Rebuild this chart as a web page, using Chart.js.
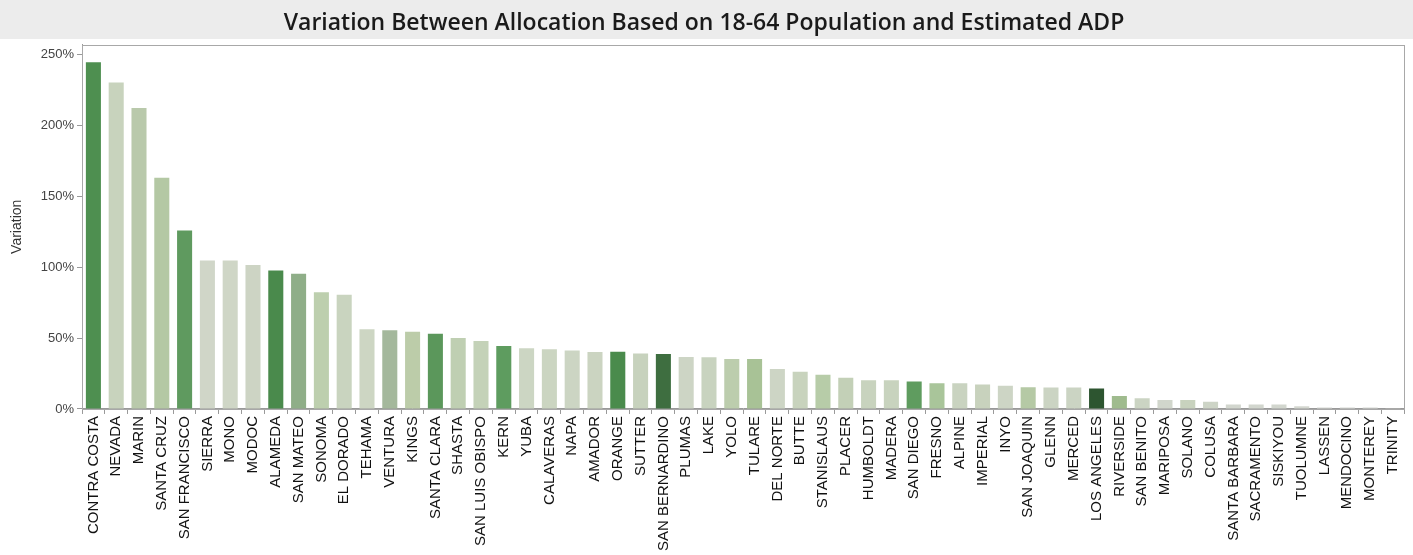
<!DOCTYPE html>
<html>
<head>
<meta charset="utf-8">
<script src="https://cdn.jsdelivr.net/npm/chart.js@4"></script>
<style>
    body { margin: 0; background: #fff; }
    .chart-wrap { width: 1413px; height: 555px; position: relative; }
</style>
</head>
<body>
<div class="chart-wrap"><canvas id="myChart"></canvas></div>
<script>
// counties, sorted by variation
const counties = [
    "CONTRA COSTA", "NEVADA", "MARIN", "SANTA CRUZ", "SAN FRANCISCO", "SIERRA",
    "MONO", "MODOC", "ALAMEDA", "SAN MATEO", "SONOMA", "EL DORADO", "TEHAMA",
    "VENTURA", "KINGS", "SANTA CLARA", "SHASTA", "SAN LUIS OBISPO", "KERN",
    "YUBA", "CALAVERAS", "NAPA", "AMADOR", "ORANGE", "SUTTER", "SAN BERNARDINO",
    "PLUMAS", "LAKE", "YOLO", "TULARE", "DEL NORTE", "BUTTE", "STANISLAUS",
    "PLACER", "HUMBOLDT", "MADERA", "SAN DIEGO", "FRESNO", "ALPINE", "IMPERIAL",
    "INYO", "SAN JOAQUIN", "GLENN", "MERCED", "LOS ANGELES", "RIVERSIDE",
    "SAN BENITO", "MARIPOSA", "SOLANO", "COLUSA", "SANTA BARBARA", "SACRAMENTO",
    "SISKIYOU", "TUOLUMNE", "LASSEN", "MENDOCINO", "MONTEREY", "TRINITY"
];

// variation in percent
const variation = [
    244.5, 230.2, 212.2, 163.0, 125.9, 104.7, 104.7, 101.6, 97.6, 95.4, 82.4,
    80.5, 56.3, 55.5, 54.4, 53.1, 50.1, 47.9, 44.4, 42.9, 42.2, 41.2, 40.1,
    40.3, 39.1, 38.7, 36.7, 36.5, 35.3, 35.3, 28.2, 26.2, 24.1, 22.0, 20.3,
    20.3, 19.4, 18.2, 18.2, 17.3, 16.3, 15.3, 15.1, 15.1, 14.4, 9.1, 7.5, 6.3,
    6.3, 5.1, 3.2, 3.2, 3.2, 2.0, 1.1, 1.1, 1.1, 0.2
];

const yTicks = [0, 50, 100, 150, 200, 250];

// bar shades (color scale of the original)
const barColors = [
    "#4e8f50", "#c8d3bd", "#b9c9ab", "#b4c8a4", "#5f9a5f", "#d0d6c8",
    "#cfd6c6", "#cdd4c4", "#4a8a4c", "#8fae88", "#bdcfae", "#c9d4bf",
    "#cdd6c3", "#a4b89c", "#bccca9", "#5b975b", "#bfcfb2", "#c4d2b8",
    "#5e9c5f", "#ccd6c3", "#cbd5c1", "#ccd5c3", "#cbd4c1", "#4a8b4c",
    "#c7d2bd", "#3e6e40", "#cdd5c5", "#c8d3bf", "#bccdad", "#a8c296",
    "#cdd5c5", "#c8d3bd", "#b7cca8", "#c3d0b7", "#c8d3be", "#c8d3be",
    "#5f9c5f", "#a9c59a", "#c9d3c0", "#c8d2bd", "#cdd5c5", "#b5c9a5",
    "#cbd4c3", "#cbd4c3", "#2d5530", "#9fbb8e", "#cbd4c3", "#d1d6cc",
    "#c8d2be", "#cdd4c6", "#d2d6ce", "#d2d6ce", "#d2d6ce", "#d4d7d0",
    "#d6d8d3", "#d6d8d3", "#d6d8d3", "#d6d8d3"
];

// grey band behind the title + box around the plot
const frame = {
    id: "frame",
    beforeDraw(chart) {
        const ctx = chart.ctx;
        ctx.save();
        ctx.fillStyle = "#ececec";
        ctx.fillRect(0, 0, chart.width, 39);
        ctx.restore();
    },
    afterDatasetsDraw(chart) {
        const { ctx, chartArea } = chart;
        ctx.save();
        ctx.strokeStyle = "#a8a8a8";
        ctx.lineWidth = 1;
        ctx.strokeRect(
            Math.round(chartArea.left) + 0.5,
            Math.round(chartArea.top) + 0.5,
            Math.round(chartArea.right - chartArea.left),
            Math.round(chartArea.bottom - chartArea.top)
        );
        ctx.restore();
    },
};

let ctx = document.getElementById("myChart").getContext("2d");
var myChart = new Chart(ctx, {
    type: "bar",
    data: {
        labels: counties,
        datasets: [
            {
                label: "Variation",
                data: variation,
                backgroundColor: barColors,
                borderWidth: 0,
                barPercentage: 0.66,
                categoryPercentage: 1,
            },
        ],
    },
    options: {
        responsive: true,
        maintainAspectRatio: false,
        animation: false,
        layout: { padding: { left: 0, right: 5, top: 0, bottom: 2 } },
        plugins: {
            legend: { display: false },
            tooltip: { enabled: false },
            title: {
                display: true,
                text: "Variation Between Allocation Based on 18-64 Population and Estimated ADP",
                color: "#1a1a1a",
                font: { family: "'Open Sans'", size: 23, weight: "600" },
                padding: { top: 10, bottom: 7 },
            },
        },
        scales: {
            x: {
                grid: {
                    drawOnChartArea: false,
                    tickLength: 5,
                    color: "#999",
                    offset: true,
                },
                border: { color: "#999" },
                ticks: {
                    autoSkip: false,
                    minRotation: 90,
                    maxRotation: 90,
                    padding: 2,
                    color: "#111",
                    font: { family: "'Liberation Sans'", size: 15 },
                },
            },
            y: {
                min: 0,
                max: 257,
                afterFit(scale) {
                    scale.width = 82;
                },
                afterBuildTicks(scale) {
                    scale.ticks = yTicks.map((v) => ({ value: v }));
                },
                grid: {
                    drawOnChartArea: false,
                    tickLength: 5,
                    color: "#999",
                },
                border: { color: "#999" },
                ticks: {
                    padding: 3,
                    color: "#444",
                    font: { family: "'Liberation Sans'", size: 13 },
                    callback: (v) => v + "%",
                },
                title: {
                    display: true,
                    text: "Variation",
                    color: "#333",
                    font: { family: "'Liberation Sans'", size: 14 },
                    padding: { top: 9, bottom: 0 },
                },
            },
        },
    },
    plugins: [frame],
});
</script>
</body>
</html>
